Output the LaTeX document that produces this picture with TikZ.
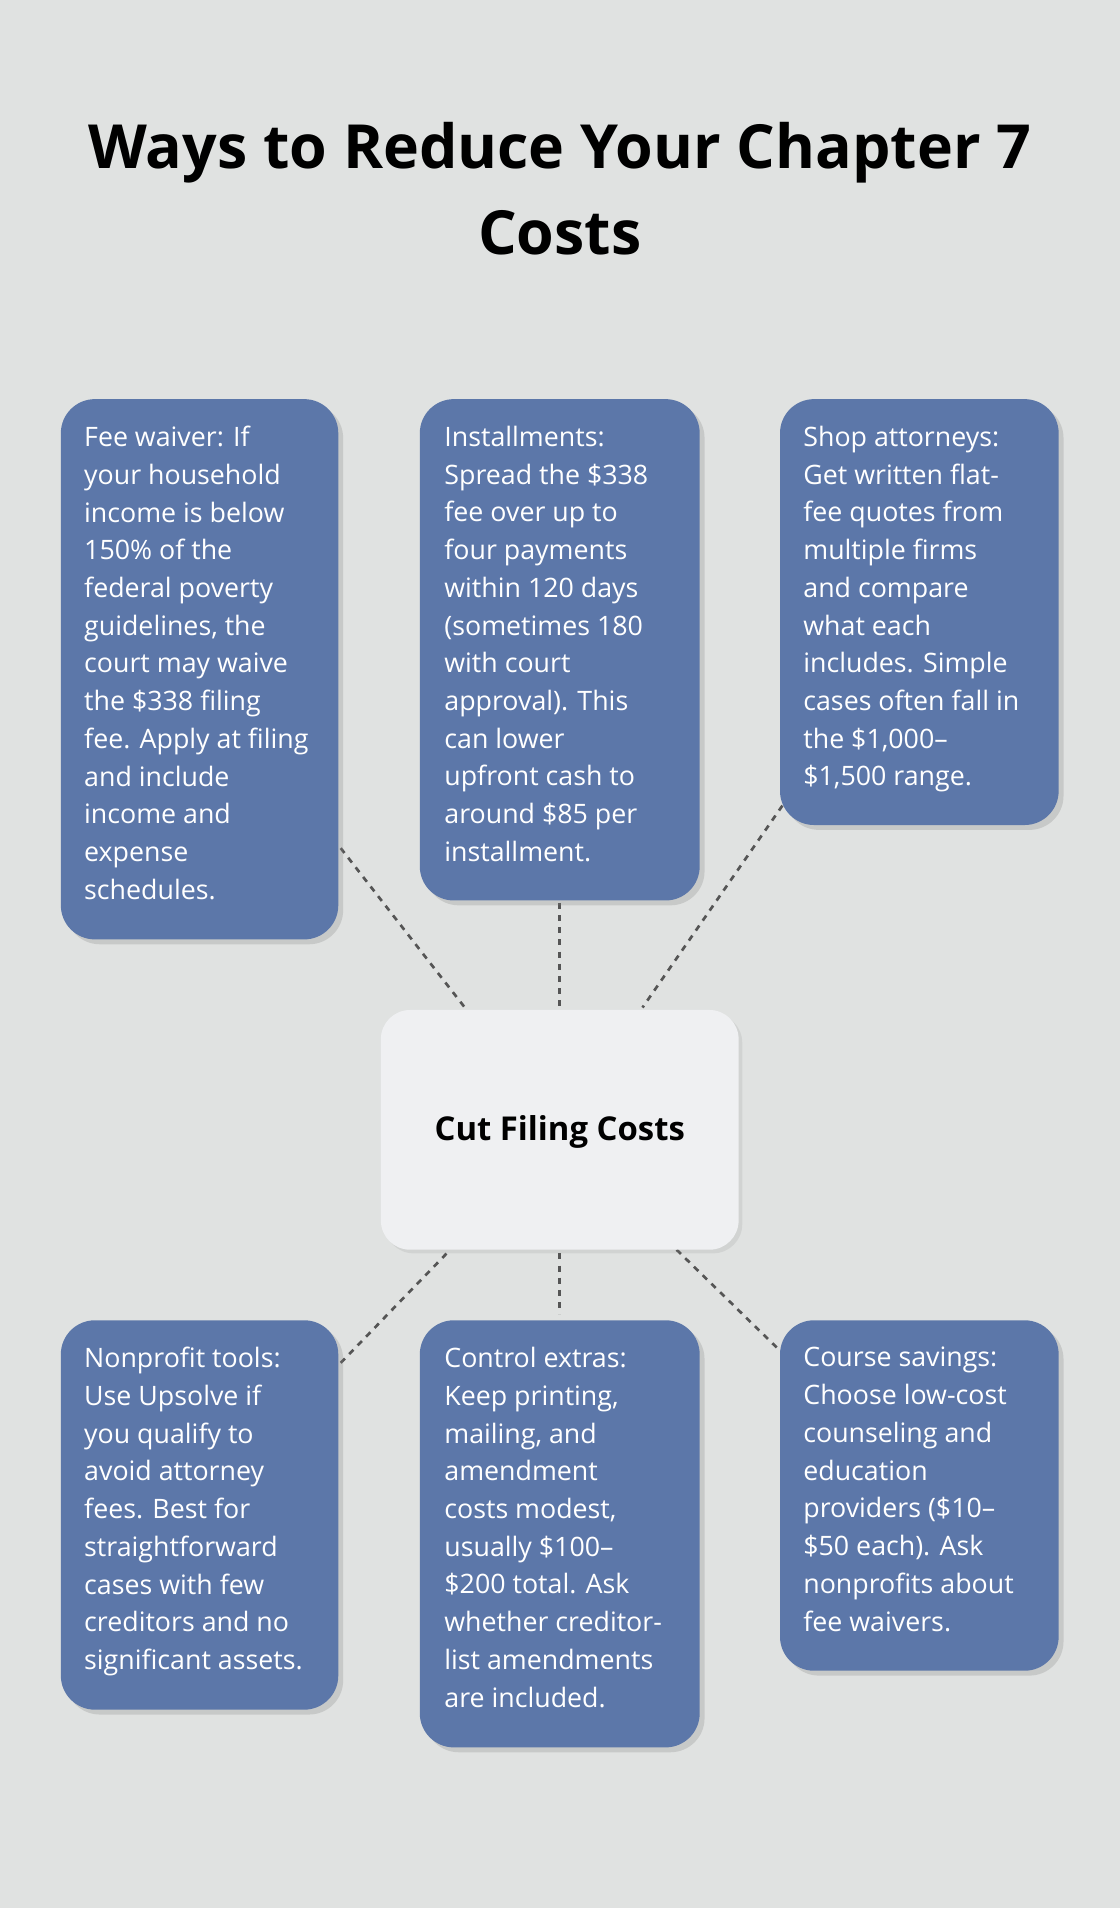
\documentclass[tikz,border=0pt]{standalone}
\usepackage{fontspec}
\setmainfont{Open Sans}
\usetikzlibrary{positioning,calc,shadows}
\definecolor{bgc}{HTML}{E0E2E1}
\definecolor{boxc}{HTML}{5C77A9}
\definecolor{midc}{HTML}{EFF0F2}
\definecolor{linec}{HTML}{555555}
\tikzset{
  tip/.style={fill=boxc, rounded corners=28pt, drop shadow={opacity=0.25, shadow xshift=4pt, shadow yshift=-4pt}},
  tiptext/.style={anchor=north west, text=white, align=left, inner sep=0pt,
    font=\fontsize{22}{31}\selectfont},
  link/.style={draw=linec, dashed, line width=2.2pt, dash pattern=on 5pt off 5pt}
}
\begin{document}
\begin{tikzpicture}[x=1pt,y=-1pt]
	\fill[bgc] (0,0) rectangle (920,1568);
	\useasboundingbox (0,0) rectangle (920,1568);
	\node[font=\fontsize{50}{70}\selectfont\bfseries, align=center] (title) at (460,155) {Ways to Reduce Your Chapter 7\\Costs};

	% connectors
	\coordinate (a1) at (280,697);  \coordinate (a2) at (382,828);
	\coordinate (b1) at (460,742);  \coordinate (b2) at (460,828);
	\coordinate (c1) at (643,662);  \coordinate (c2) at (528,828);
	\coordinate (d1) at (280,1120); \coordinate (d2) at (370,1027);
	\coordinate (e1) at (460,1030); \coordinate (e2) at (460,1080);
	\coordinate (f1) at (556,1027); \coordinate (f2) at (641,1110);
	\foreach \s/\t in {a1/a2,b1/b2,c1/c2,d1/d2,e1/e2,f1/f2}
		\draw[link] (\s) -- (\t);

	% boxes
	\filldraw[tip, draw=none] (50,328) rectangle (278,772);
	\filldraw[tip, draw=none] (345,328) rectangle (575,740);
	\filldraw[tip, draw=none] (641,328) rectangle (870,678);
	\filldraw[tip, draw=none] (50,1085) rectangle (278,1405);
	\filldraw[tip, draw=none] (345,1085) rectangle (575,1436);
	\filldraw[tip, draw=none] (641,1085) rectangle (870,1373);
	\filldraw[fill=midc, draw=none, rounded corners=24pt, drop shadow={opacity=0.15, shadow xshift=3pt, shadow yshift=-3pt}] (313,830) rectangle (607,1027);
	\node[font=\fontsize{27}{34}\selectfont\bfseries] (center) at (460,930) {Cut Filing Costs};

	\node[tiptext] (waiver) at (69,350) {Fee waiver: If\\your household\\income is below\\150\% of the\\federal poverty\\guidelines, the\\court may waive\\the \$338 filing\\fee. Apply at filing\\and include\\income and\\expense\\schedules.};
	\node[tiptext] (install) at (365,350) {Installments:\\Spread the \$338\\fee over up to\\four payments\\within 120 days\\(sometimes 180\\with court\\approval). This\\can lower\\upfront cash to\\around \$85 per\\installment.};
	\node[tiptext] (shop) at (660,350) {Shop attorneys:\\Get written flat-\\fee quotes from\\multiple firms\\and compare\\what each\\includes. Simple\\cases often fall in\\the \$1,000–\\\$1,500 range.};
	\node[tiptext] (nonprofit) at (69,1107) {Nonprofit tools:\\Use Upsolve if\\you qualify to\\avoid attorney\\fees. Best for\\straightforward\\cases with few\\creditors and no\\significant assets.};
	\node[tiptext] (extras) at (365,1107) {Control extras:\\Keep printing,\\mailing, and\\amendment\\costs modest,\\usually \$100–\\\$200 total. Ask\\whether creditor-\\list amendments\\are included.};
	\node[tiptext] (course) at (660,1107) {Course savings:\\Choose low-cost\\counseling and\\education\\providers (\$10–\\\$50 each). Ask\\nonprofits about\\fee waivers.};
\end{tikzpicture}
\end{document}
